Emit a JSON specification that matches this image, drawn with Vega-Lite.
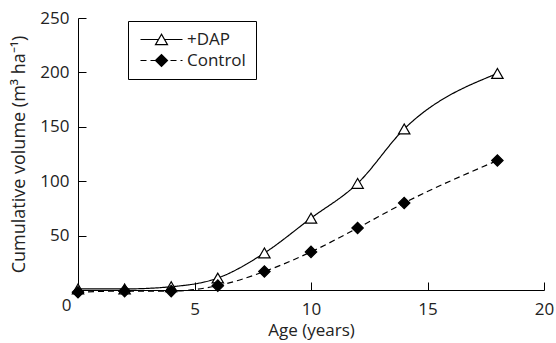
{
  "$schema": "https://vega.github.io/schema/vega-lite/v6.json",
  "width": 466,
  "height": 272,
  "autosize": {"type": "none"},
  "padding": {"left": 78, "top": 18, "right": 12, "bottom": 53},
  "background": "white",
  "config": {
    "view": {"stroke": null},
    "font": "Open Sans",
    "axis": {
      "grid": false,
      "domainColor": "black",
      "tickColor": "black",
      "labelColor": "#222",
      "titleColor": "#222",
      "labelFontSize": 17,
      "titleFontSize": 17,
      "titleFontWeight": "normal",
      "labelFont": "Open Sans",
      "titleFont": "Open Sans",
      "tickSize": -8,
      "domainWidth": 1,
      "tickWidth": 1,
      "labelFlush": false
    }
  },
  "data": {
    "values": [
      {"age": 0, "series": "+DAP", "volume": 1},
      {"age": 2, "series": "+DAP", "volume": 1},
      {"age": 4, "series": "+DAP", "volume": 3},
      {"age": 6, "series": "+DAP", "volume": 11},
      {"age": 8, "series": "+DAP", "volume": 34},
      {"age": 10, "series": "+DAP", "volume": 66},
      {"age": 12, "series": "+DAP", "volume": 98},
      {"age": 14, "series": "+DAP", "volume": 148},
      {"age": 18, "series": "+DAP", "volume": 199},
      {"age": 0, "series": "Control", "volume": -2},
      {"age": 2, "series": "Control", "volume": -1},
      {"age": 4, "series": "Control", "volume": -1},
      {"age": 6, "series": "Control", "volume": 4},
      {"age": 8, "series": "Control", "volume": 17},
      {"age": 10, "series": "Control", "volume": 35},
      {"age": 12, "series": "Control", "volume": 57},
      {"age": 14, "series": "Control", "volume": 80},
      {"age": 18, "series": "Control", "volume": 119}
    ]
  },
  "encoding": {
    "y": {
      "field": "volume",
      "type": "quantitative",
      "scale": {"domain": [0, 250], "nice": false},
      "axis": {
        "title": "Cumulative volume (m³ ha⁻¹)",
        "titleFontSize": 18,
        "values": [0, 50, 100, 150, 200, 250],
        "labelExpr": "datum.value === 0 ? '' : datum.label",
        "labelPadding": 17,
        "titlePadding": 11
      }
    }
  },
  "layer": [
    {
      "mark": {"type": "line", "interpolate": "monotone", "color": "black", "strokeWidth": 1.2},
      "encoding": {
        "x": {
          "field": "age",
          "type": "quantitative",
          "scale": {"domain": [0, 20], "nice": false, "zero": false},
          "axis": {
            "title": "Age (years)",
            "values": [0, 5, 10, 15, 20],
            "labelExpr": "datum.value === 0 ? '' : datum.label",
            "labelPadding": 19,
            "titlePadding": 5
          }
        },
        "strokeDash": {
          "field": "series",
          "type": "nominal",
          "scale": {"domain": ["+DAP", "Control"], "range": [[1, 0], [6, 4]]},
          "legend": {
            "title": null,
            "orient": "none",
            "legendX": 50,
            "legendY": 3,
            "padding": 10,
            "fillColor": "white",
            "strokeColor": "black",
            "symbolType": "M-3.5,0L3.5,0",
            "symbolSize": 144,
            "symbolOffset": 15,
            "symbolStrokeColor": "black",
            "symbolStrokeWidth": 1.2,
            "labelOffset": 17,
            "labelFontSize": 17,
            "labelFont": "Open Sans",
            "labelColor": "#222",
            "rowPadding": 3
          }
        }
      }
    },
    {
      "mark": {"type": "point", "filled": true, "stroke": "black", "strokeWidth": 1.2, "opacity": 1, "size": 130},
      "encoding": {
        "x": {
          "field": "age",
          "type": "quantitative",
          "scale": {"domain": [0, 20], "nice": false, "zero": false},
          "axis": {
            "orient": "bottom",
            "values": [0],
            "domain": false,
            "ticks": false,
            "tickSize": 0,
            "title": null,
            "labelOffset": -12,
            "labelPadding": 7
          }
        },
        "shape": {
          "field": "series",
          "type": "nominal",
          "scale": {"range": ["triangle-up", "diamond"]},
          "legend": {
            "title": null,
            "orient": "none",
            "legendX": 50,
            "legendY": 3,
            "padding": 10,
            "fillColor": null,
            "strokeColor": null,
            "symbolSize": 144,
            "symbolOffset": 15,
            "symbolStrokeWidth": 1.2,
            "symbolOpacity": 1,
            "labelOffset": 17,
            "labelFontSize": 17,
            "labelFont": "Open Sans",
            "labelColor": "#222",
            "labelOpacity": 0,
            "rowPadding": 3
          }
        },
        "fill": {
          "field": "series",
          "type": "nominal",
          "scale": {"range": ["white", "black"]},
          "legend": {
            "title": null,
            "orient": "none",
            "legendX": 50,
            "legendY": 3,
            "padding": 10,
            "fillColor": null,
            "strokeColor": null,
            "symbolSize": 144,
            "symbolOffset": 15,
            "symbolStrokeWidth": 1.2,
            "symbolOpacity": 1,
            "labelOffset": 17,
            "labelFontSize": 17,
            "labelFont": "Open Sans",
            "labelColor": "#222",
            "labelOpacity": 0,
            "rowPadding": 3
          }
        },
        "stroke": {
          "field": "series",
          "type": "nominal",
          "scale": {"range": ["black", "black"]},
          "legend": {
            "title": null,
            "orient": "none",
            "legendX": 50,
            "legendY": 3,
            "padding": 10,
            "fillColor": null,
            "strokeColor": null,
            "symbolSize": 144,
            "symbolOffset": 15,
            "symbolStrokeWidth": 1.2,
            "symbolOpacity": 1,
            "labelOffset": 17,
            "labelFontSize": 17,
            "labelFont": "Open Sans",
            "labelColor": "#222",
            "labelOpacity": 0,
            "rowPadding": 3
          }
        }
      }
    }
  ],
  "resolve": {"scale": {"x": "independent"}, "axis": {"x": "independent"}}
}
